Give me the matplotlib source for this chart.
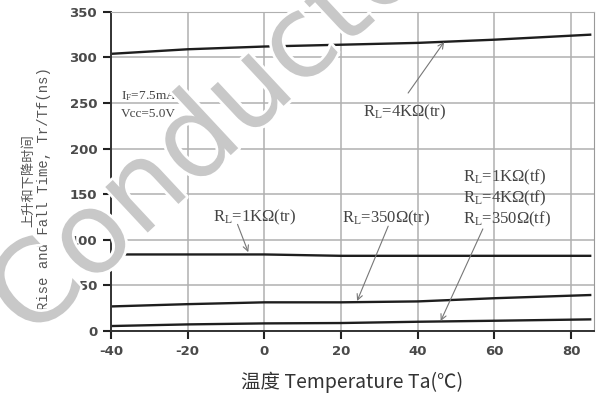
import matplotlib
matplotlib.use("Agg")
import matplotlib.pyplot as plt
import matplotlib.patheffects as pe

plt.rcParams['mathtext.fontset'] = 'custom'
plt.rcParams['mathtext.rm'] = 'Liberation Serif'
plt.rcParams['mathtext.it'] = 'Liberation Serif'
plt.rcParams['axes.unicode_minus'] = False

# ambient temperature (degC)
temp = [-40, -20, 0, 20, 40, 60, 85]

# rise / fall times (ns)
tr_4k = [304, 309, 312, 314, 316, 319.5, 325]
tr_1k = [84, 84, 84, 82.5, 82.5, 82.5, 82.5]
tr_350 = [27, 29.5, 31.5, 31.5, 32.5, 36, 39.5]
tf_all = [5.5, 7.3, 8.4, 8.8, 10.2, 11.3, 12.8]

xticks = [-40, -20, 0, 20, 40, 60, 80]
yticks = [0, 50, 100, 150, 200, 250, 300, 350]

fig = plt.figure(figsize=(5.97, 3.96), dpi=100)
ax = fig.add_axes([0.186, 0.164, 0.809, 0.806])

line_kw = dict(color='#1e1e1e', lw=1.7)
for ys in (tr_4k, tr_1k, tr_350, tf_all):
    ax.plot(temp, ys, **line_kw)

ax.set_xlim(-40, 86)
ax.set_ylim(0, 350)
ax.set_xticks(xticks)
ax.set_yticks(yticks)
ax.grid(True, color='#b0b0b0', lw=1.1)
ax.set_axisbelow(True)
ax.tick_params(direction='out', length=6, width=1.5, color='#222',
               labelsize=9.5, labelcolor='#4a4a4a', pad=4)
for lab in ax.get_xticklabels() + ax.get_yticklabels():
    lab.set_fontweight('bold')
ax.spines['left'].set_color('#333')
ax.spines['left'].set_linewidth(1.4)
ax.spines['bottom'].set_color('#333')
ax.spines['bottom'].set_linewidth(1.4)
ax.spines['top'].set_color('#b0b0b0')
ax.spines['right'].set_color('#999')

serif = dict(family='Liberation Serif', color='#444', fontsize=12)
ax.text(-37.5, 254, r'I$_F$=7.5mA', fontsize=9.5, family='Liberation Serif', color='#444')
ax.text(-37.5, 235, 'Vcc=5.0V', fontsize=9.5, family='Liberation Serif', color='#444')

arrow = dict(arrowstyle='->', color='#777', lw=0.8, shrinkA=0, shrinkB=0)
ax.annotate('', xy=(46.9, 317), xytext=(37.5, 261), arrowprops=arrow)
ax.text(25.8, 235, r'R$_L$=4KΩ(tr)', **serif)
ax.annotate('', xy=(-4.2, 86.5), xytext=(-7, 117), arrowprops=arrow)
ax.text(-13.3, 120, r'R$_L$=1KΩ(tr)', **serif)
ax.annotate('', xy=(24.2, 33), xytext=(32.3, 115), arrowprops=arrow)
ax.text(20.3, 119, r'R$_L$=350Ω(tr)', **serif)
ax.annotate('', xy=(46, 11), xytext=(57, 112), arrowprops=arrow)
ax.text(51.8, 164, r'R$_L$=1KΩ(tf)', **serif)
ax.text(51.8, 141, r'R$_L$=4KΩ(tf)', **serif)
ax.text(51.8, 118, r'R$_L$=350Ω(tf)', **serif)

fig.text(0.048, 0.545, '上升和下降时间', rotation=90, ha='center', va='center',
         family=['Noto Sans CJK SC', 'DejaVu Sans'], fontsize=9.5, color='#555')
fig.text(0.073, 0.525, 'Rise and Fall Time, Tr/Tf(ns)', rotation=90, ha='center',
         va='center', family='Liberation Mono', fontsize=10, color='#555')
fig.text(0.59, 0.035, '温度 Temperature Ta(℃)', ha='center', va='center',
         family=['Noto Sans CJK SC', 'DejaVu Sans'], fontsize=14, color='#333')

# diagonal watermark
wm = fig.text(0.052, 0.138, 'Conductor', rotation=43, rotation_mode='anchor',
              ha='left', va='baseline', fontsize=82, color='#c8c8c8',
              family='DejaVu Sans', zorder=10)
wm.set_path_effects([pe.withStroke(linewidth=4, foreground='white')])

fig.savefig('out.png', dpi=100)
